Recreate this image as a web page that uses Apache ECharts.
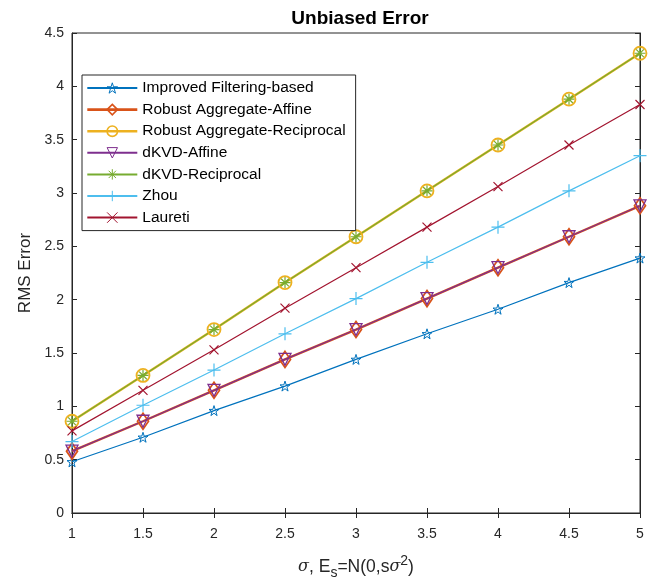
<!DOCTYPE html>
<html>
<head>
<meta charset="utf-8">
<script src="https://cdn.jsdelivr.net/npm/echarts@6/dist/echarts.min.js"></script>
<style>html,body{margin:0;padding:0;background:#fff;}#c{width:658px;height:583px;}</style>
</head>
<body>
<div id="c"></div>
<script>
const xValues = [1, 1.5, 2, 2.5, 3, 3.5, 4, 4.5, 5];
const improvedFiltering = [0.48, 0.71, 0.96, 1.19, 1.44, 1.68, 1.91, 2.16, 2.39];
const robustAffine = [0.58, 0.86, 1.15, 1.44, 1.72, 2.01, 2.30, 2.59, 2.88];
const robustReciprocal = [0.86, 1.29, 1.72, 2.16, 2.59, 3.02, 3.45, 3.88, 4.31];
const dkvdAffine = [0.58, 0.86, 1.15, 1.44, 1.72, 2.01, 2.30, 2.59, 2.88];
const dkvdReciprocal = [0.86, 1.29, 1.72, 2.16, 2.59, 3.02, 3.45, 3.88, 4.31];
const zhou = [0.67, 1.01, 1.34, 1.68, 2.01, 2.35, 2.68, 3.02, 3.35];
const laureti = [0.77, 1.15, 1.53, 1.92, 2.30, 2.68, 3.06, 3.45, 3.83];
const seriesNames = ['Improved Filtering-based','Robust Aggregate-Affine','Robust Aggregate-Reciprocal','dKVD-Affine','dKVD-Reciprocal','Zhou','Laureti'];

const STAR = 'path://M0,-100L22.45,-30.9L95.1,-30.9L36.3,11.8L58.8,80.9L0,38.2L-58.8,80.9L-36.3,11.8L-95.1,-30.9L-22.45,-30.9Z';
const ASTER = 'path://M0,-10L0,10M-10,0L10,0M-7,-7L7,7M-7,7L7,-7';
const PLUS = 'path://M0,-10L0,10M-10,0L10,0';
const CROSS = 'path://M-10,-10L10,10M-10,10L10,-10';

function pairs(arr){ return xValues.map((x,i)=>[x, arr[i]]); }
function mk(name, data, color, width, symbol, size, bw, rotate){
  return {
    name, type:'line', data:pairs(data), symbol, symbolSize:size, symbolRotate:rotate||0,
    lineStyle:{color, width}, itemStyle:{color:'rgba(0,0,0,0)', borderColor:color, borderWidth:bw},
    emphasis:{disabled:true}, animation:false, showAllSymbol:true
  };
}
const font = 'Liberation Sans, Arial, Helvetica, sans-serif';
const series = [
  mk(seriesNames[0], improvedFiltering, '#0072BD', 1.2, STAR, 10, 1),
  mk(seriesNames[1], robustAffine, '#D95319', 2.4, 'diamond', [11,16], 1.8),
  mk(seriesNames[2], robustReciprocal, '#EDB120', 2.4, 'circle', 13, 1.8),
  mk(seriesNames[3], dkvdAffine, '#7E2F8E', 1.2, 'triangle', 12, 1.3, 180),
  mk(seriesNames[4], dkvdReciprocal, '#77AC30', 1.2, ASTER, 11, 1.2),
  mk(seriesNames[5], zhou, '#4DBEEE', 1.2, PLUS, 13, 1.2),
  mk(seriesNames[6], laureti, '#A2142F', 1.2, CROSS, 9, 1.2)
];
const thick = {1:true, 2:true};
const legendData = seriesNames.map((n,i)=>({name:n, itemStyle:{borderWidth:thick[i]?1.6:1}, lineStyle: thick[i] ? {width:2.6} : undefined}));
const axisCol = '#262626';
const chart = echarts.init(document.getElementById('c'), null, {renderer:'canvas'});
chart.setOption({
  backgroundColor:'#fff',
  animation:false,
  title:{text:'Unbiased Error', left:355, top:4, textAlign:'center', textStyle:{fontFamily:font, fontSize:19, fontWeight:'bold', color:'#000'}},
  grid:{left:72, right:18, top:33, bottom:70, containLabel:false, outerBoundsMode:'none', show:true, borderColor:axisCol, borderWidth:1, backgroundColor:'#fff'},
  legend:{
    orient:'vertical', left:82, top:75, data:legendData, itemWidth:50, itemHeight:13, itemGap:5.6,
    padding:[5,10,5,4], backgroundColor:'#fff', borderColor:axisCol, borderWidth:1,
    textStyle:{fontFamily:font, fontSize:15.5, color:'#000'}, selectedMode:false
  },
  xAxis:[{
    type:'value', min:1, max:5, interval:0.5, position:'bottom',
    axisLine:{show:true, lineStyle:{color:axisCol}}, axisTick:{show:true, inside:true, length:5, lineStyle:{color:axisCol}},
    splitLine:{show:false}, axisLabel:{color:axisCol, fontFamily:font, fontSize:14, margin:14},
    name:'{i|σ}, E{sub|s}=N(0,s{i|σ}{sup|2})', nameLocation:'middle', nameGap:41,
    nameTextStyle:{fontFamily:font, fontSize:17.5, color:axisCol, rich:{
      i:{fontStyle:'italic', fontFamily:'DejaVu Serif, serif', fontSize:16, color:axisCol},
      sub:{fontSize:14, color:axisCol, padding:[12,0,0,0], fontFamily:font},
      sup:{fontSize:14, color:axisCol, padding:[0,0,12,0], fontFamily:font}
    }}
  },{
    type:'value', min:1, max:5, interval:0.5, position:'top',
    axisLine:{show:true, lineStyle:{color:axisCol}}, axisTick:{show:true, inside:true, length:5, lineStyle:{color:axisCol}},
    splitLine:{show:false}, axisLabel:{show:false}
  }],
  yAxis:[{
    type:'value', min:0, max:4.5, interval:0.5, position:'left',
    axisLine:{show:true, lineStyle:{color:axisCol}}, axisTick:{show:true, inside:true, length:5, lineStyle:{color:axisCol}},
    splitLine:{show:false}, axisLabel:{color:axisCol, fontFamily:font, fontSize:14, margin:8},
    name:'RMS Error', nameLocation:'middle', nameGap:36, nameRotate:90,
    nameTextStyle:{fontFamily:font, fontSize:17, color:axisCol}
  },{
    type:'value', min:0, max:4.5, interval:0.5, position:'right',
    axisLine:{show:true, lineStyle:{color:axisCol}}, axisTick:{show:true, inside:true, length:5, lineStyle:{color:axisCol}},
    splitLine:{show:false}, axisLabel:{show:false}
  }],
  series
});
</script>
</body>
</html>
